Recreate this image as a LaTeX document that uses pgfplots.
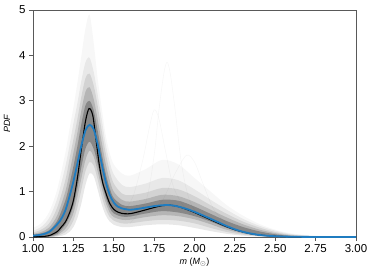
\documentclass[border=0pt]{standalone}
\usepackage{fontspec}
\setmainfont{Liberation Sans}
\usepackage{pgfplots}
\usepackage{pgfplotstable}
\pgfplotsset{compat=1.18}
\usepgfplotslibrary{fillbetween}
\definecolor{pblue}{RGB}{31,124,192}

\pgfplotstableread{
m lo0 hi0 lo1 hi1 lo2 hi2 lo3 hi3 hi4
1.00 0 0.05 0 0.07 0 0.10 0 0.14 0.2
1.05 0 0.08 0 0.11 0 0.16 0 0.22 0.3
1.10 0.01 0.15 0.005 0.21 0 0.3 0 0.42 0.55
1.15 0.07 0.36 0.04 0.48 0.02 0.65 0.01 0.85 1.05
1.20 0.27 0.8 0.18 1.0 0.11 1.25 0.05 1.55 1.85
1.225 0.44 1.15 0.32 1.4 0.2 1.7 0.11 2.0 2.35
1.25 0.68 1.55 0.52 1.85 0.36 2.15 0.22 2.5 2.85
1.275 1.08 2.0 0.88 2.3 0.65 2.6 0.42 2.95 3.4
1.30 1.55 2.5 1.3 2.8 1.05 3.1 0.75 3.45 4.0
1.325 1.95 2.9 1.7 3.2 1.45 3.5 1.15 3.85 4.6
1.35 2.1 3.0 1.9 3.3 1.65 3.6 1.4 3.95 4.9
1.375 1.95 2.8 1.78 3.05 1.58 3.35 1.35 3.65 4.3
1.40 1.62 2.35 1.45 2.6 1.27 2.9 1.05 3.15 3.5
1.425 1.22 1.85 1.08 2.1 0.9 2.35 0.72 2.6 2.85
1.45 0.88 1.4 0.76 1.62 0.62 1.85 0.48 2.05 2.25
1.475 0.64 1.07 0.54 1.25 0.44 1.45 0.34 1.65 1.85
1.50 0.52 0.86 0.44 1.0 0.36 1.18 0.27 1.38 1.6
1.55 0.45 0.71 0.38 0.82 0.3 0.96 0.22 1.15 1.4
1.60 0.45 0.68 0.38 0.78 0.3 0.92 0.22 1.1 1.35
1.70 0.52 0.74 0.44 0.84 0.35 0.98 0.26 1.18 1.5
1.80 0.57 0.82 0.48 0.93 0.38 1.08 0.28 1.3 1.7
1.90 0.54 0.8 0.46 0.9 0.36 1.05 0.26 1.25 1.6
2.00 0.46 0.67 0.39 0.77 0.3 0.9 0.2 1.05 1.3
2.10 0.34 0.51 0.28 0.6 0.2 0.7 0.13 0.82 1.0
2.20 0.2 0.35 0.16 0.43 0.11 0.51 0.07 0.6 0.7
2.30 0.1 0.22 0.075 0.28 0.05 0.34 0.03 0.4 0.47
2.40 0.038 0.125 0.027 0.165 0.016 0.21 0.01 0.25 0.29
2.50 0.012 0.06 0.008 0.085 0.004 0.11 0 0.14 0.16
2.60 0.003 0.025 0.002 0.037 0 0.05 0 0.065 0.08
2.75 0 0.007 0 0.011 0 0.016 0 0.022 0.03
3.00 0 0.001 0 0.002 0 0.003 0 0.005 0.008
}\band

\pgfplotstableread{
m pdf
1.00 0.005
1.05 0.01
1.10 0.03
1.15 0.12
1.175 0.22
1.20 0.33
1.225 0.52
1.25 0.80
1.275 1.30
1.30 1.95
1.325 2.55
1.347 2.83
1.37 2.68
1.39 2.15
1.41 1.60
1.43 1.22
1.45 0.98
1.475 0.74
1.50 0.61
1.525 0.55
1.55 0.52
1.588 0.51
1.625 0.53
1.70 0.60
1.75 0.65
1.80 0.69
1.85 0.70
1.90 0.67
1.95 0.61
2.00 0.54
2.05 0.46
2.10 0.38
2.15 0.30
2.20 0.225
2.25 0.16
2.30 0.11
2.35 0.07
2.40 0.045
2.45 0.028
2.50 0.016
2.60 0.005
2.75 0.001
3.00 0.0
}\blackcurve

\pgfplotstableread{
m pdf
1.00 0.03
1.05 0.05
1.10 0.11
1.15 0.28
1.175 0.40
1.20 0.58
1.225 0.88
1.25 1.22
1.275 1.62
1.30 2.02
1.325 2.35
1.35 2.47
1.375 2.38
1.40 2.05
1.425 1.62
1.45 1.22
1.475 0.93
1.50 0.76
1.525 0.67
1.55 0.63
1.60 0.60
1.65 0.62
1.70 0.65
1.75 0.68
1.80 0.70
1.83 0.705
1.875 0.69
1.90 0.67
1.95 0.62
2.00 0.555
2.05 0.48
2.10 0.40
2.15 0.32
2.20 0.24
2.25 0.17
2.30 0.115
2.35 0.075
2.40 0.045
2.45 0.028
2.50 0.017
2.60 0.006
2.75 0.0015
3.00 0.0
}\bluecurve

\begin{document}
\begin{tikzpicture}
\begin{axis}[
  scale only axis,
  width=323pt, height=227pt,
  xmin=1, xmax=3, ymin=0, ymax=5,
  xtick={1,1.25,1.5,1.75,2,2.25,2.5,2.75,3},
  ytick={0,1,2,3,4,5},
  xticklabel style={/pgf/number format/.cd, fixed, fixed zerofill, precision=2},
  /pgf/number format/assume math mode=true,
  tick label style={font=\fontsize{11.5}{12}\selectfont, black},
  tick align=outside,
  xtick pos=bottom, ytick pos=left,
  major tick length=4pt,
  axis line style={draw=black!65, line width=0.9pt},
  every tick/.style={draw=black!65, line width=0.9pt},
  xlabel={\textit{m} (\textit{M}$_\odot$)},
  ylabel={\textit{PDF}},
  every axis x label/.style={at={(axis description cs:0.5,-0.110)}, anchor=center, font=\fontsize{9}{10}\selectfont},
  every axis y label/.style={at={(axis description cs:-0.0805,0.5)}, anchor=center, rotate=90, font=\fontsize{9}{10}\selectfont},
]
\coordinate (O) at (rel axis cs:0,0);
\addplot[draw=none, smooth, name path=h4, forget plot] table[x=m,y=hi4]{\band};
\addplot[draw=none, smooth, name path=h3, forget plot] table[x=m,y=hi3]{\band};
\addplot[draw=none, smooth, name path=l3, forget plot] table[x=m,y=lo3]{\band};
\addplot[draw=none, smooth, name path=h2, forget plot] table[x=m,y=hi2]{\band};
\addplot[draw=none, smooth, name path=l2, forget plot] table[x=m,y=lo2]{\band};
\addplot[draw=none, smooth, name path=h1, forget plot] table[x=m,y=hi1]{\band};
\addplot[draw=none, smooth, name path=l1, forget plot] table[x=m,y=lo1]{\band};
\addplot[draw=none, smooth, name path=h0, forget plot] table[x=m,y=hi0]{\band};
\addplot[draw=none, smooth, name path=l0, forget plot] table[x=m,y=lo0]{\band};
\addplot[black, fill opacity=0.03, forget plot] fill between[of=h4 and l3];
\addplot[black, fill opacity=0.06, forget plot] fill between[of=h3 and l3];
\addplot[black, fill opacity=0.09, forget plot] fill between[of=h2 and l2];
\addplot[black, fill opacity=0.14, forget plot] fill between[of=h1 and l1];
\addplot[black, fill opacity=0.25, forget plot] fill between[of=h0 and l0];
% faint individual samples in the second bump
\addplot[black, opacity=0.03, smooth, line width=0.6pt] coordinates {(1.6,0.3) (1.7,0.8) (1.75,1.8) (1.78,2.8) (1.81,3.6) (1.83,3.85) (1.85,3.6) (1.88,2.8) (1.92,1.6) (1.97,0.8) (2.05,0.4) (2.2,0.15)};
\addplot[black, opacity=0.03, smooth, line width=0.6pt] coordinates {(1.55,0.5) (1.62,0.9) (1.68,1.7) (1.72,2.4) (1.75,2.8) (1.78,2.6) (1.82,1.9) (1.87,1.1) (1.95,0.6) (2.05,0.35)};
\addplot[black, opacity=0.03, smooth, line width=0.6pt] coordinates {(1.7,0.5) (1.8,0.8) (1.88,1.4) (1.95,1.8) (2.0,1.65) (2.05,1.2) (2.12,0.6) (2.2,0.3)};
\addplot[black, line width=1.1pt, smooth] table[x=m,y=pdf]{\blackcurve};
\addplot[pblue, line width=1.8pt, smooth] table[x=m,y=pdf]{\bluecurve};
\end{axis}
\path (O) ++(-33pt,-39pt) rectangle ++(374pt,276pt);
\end{tikzpicture}
\end{document}
